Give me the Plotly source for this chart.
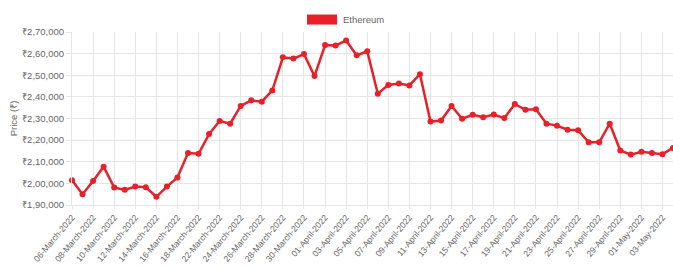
import plotly.graph_objects as go

dates = (
    [f"{d:02d}-March-2022" for d in range(6, 19)]
    + ["20-March-2022"]
    + [f"{d:02d}-March-2022" for d in range(22, 32)]
    + [f"{d:02d}-April-2022" for d in range(1, 31)]
    + [f"{d:02d}-May-2022" for d in range(1, 5)]
)

prices = [
    201500, 195000, 201100, 207700, 198100, 197000, 198500, 198200, 193800, 198500,
    202700, 214000, 213700, 222800, 228900, 227600, 235800, 238400, 237800, 243000,
    258300, 257700, 259800, 249600, 264000, 263700, 266100, 259200, 261100, 241500,
    245500, 246200, 245300, 250500, 228600, 229100, 235800, 229900, 231700, 230600,
    231800, 230200, 236700, 234000, 234300, 227600, 226700, 224800, 224600, 219000,
    219000, 227600, 215200, 213300, 214600, 214000, 213500, 216400,
]

y_tick_values = [190000, 200000, 210000, 220000, 230000, 240000, 250000, 260000, 270000]
y_tick_labels = ["₹1,90,000", "₹2,00,000", "₹2,10,000", "₹2,20,000", "₹2,30,000",
                 "₹2,40,000", "₹2,50,000", "₹2,60,000", "₹2,70,000"]

series_name = "Ethereum"
red = "#e8202a"
grey_text = "#666666"
grid = "#e6e6e6"
FONT = "Liberation Sans, Arial, Helvetica, sans-serif"

x_tick_vals = dates[::2]

fig = go.Figure()
fig.add_trace(go.Scatter(
    x=dates, y=prices, mode="lines+markers", name=series_name,
    line=dict(color=red, width=2.5),
    marker=dict(color=red, size=6),
    cliponaxis=False, showlegend=False,
))

# Chart.js-style legend box
fig.add_shape(type="rect", xref="paper", yref="paper",
              x0=0.391, x1=0.441, y0=1.043, y1=1.101,
              fillcolor=red, line=dict(width=0))
fig.add_annotation(xref="paper", yref="paper", x=0.4476, y=1.072,
                   text=series_name, showarrow=False, xanchor="left", yanchor="middle",
                   font=dict(size=9.5, color=grey_text, family=FONT))

fig.update_layout(
    width=673, height=268,
    margin=dict(l=72, r=0, t=31.5, b=62.5),
    paper_bgcolor="white", plot_bgcolor="white",
    font=dict(family=FONT, color=grey_text, size=11),
)
fig.update_xaxes(
    type="category", range=[0, len(dates) - 1], automargin=False,
    tickmode="array", tickvals=x_tick_vals, ticktext=x_tick_vals,
    tickangle=-50, tickfont=dict(size=8.6, color=grey_text),
    showgrid=True, gridcolor=grid, gridwidth=1,
    ticks="outside", ticklen=3, tickcolor=grid,
    showline=True, linecolor=grid, zeroline=False,
)
fig.update_yaxes(
    range=[190000, 270000], automargin=False,
    tickmode="array", tickvals=y_tick_values, ticktext=y_tick_labels,
    tickfont=dict(size=9.5, color=grey_text),
    showgrid=True, gridcolor=grid, gridwidth=1,
    ticks="outside", ticklen=5, tickcolor=grid,
    showline=True, linecolor=grid, zeroline=False,
    title=dict(text="Price (₹)", font=dict(size=9.5, color=grey_text), standoff=2),
)

fig.write_html("out.html", config={"displayModeBar": False},
               post_script="document.body.style.margin='0px';")
